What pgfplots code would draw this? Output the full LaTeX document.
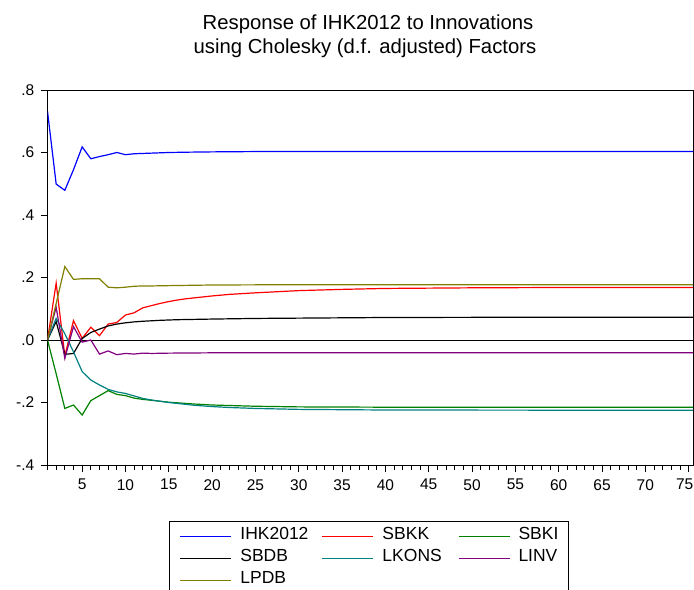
\documentclass[border=0pt]{standalone}
\usepackage{pgfplots}
\pgfplotsset{compat=1.18}
\usepackage{fontspec}
\setmainfont{Liberation Sans}
\definecolor{cIHK}{RGB}{0,0,255}
\definecolor{cSBKK}{RGB}{255,0,0}
\definecolor{cSBKI}{RGB}{0,128,0}
\definecolor{cSBDB}{RGB}{0,0,0}
\definecolor{cLKONS}{RGB}{0,128,128}
\definecolor{cLINV}{RGB}{128,0,128}
\definecolor{cLPDB}{RGB}{128,128,0}
\begin{document}
\begin{tikzpicture}
\path[use as bounding box] (0,0) rectangle (694bp,-590bp);
\node[anchor=base, font=\fontsize{20.3bp}{24bp}\selectfont] at (368bp,-29.7bp) {Response of IHK2012 to Innovations};
\node[anchor=base, font=\fontsize{20.3bp}{24bp}\selectfont] at (365bp,-53bp) {using Cholesky (d.f. adjusted) Factors};
\begin{axis}[
  at={(47.5bp,-465bp)}, anchor=south west,
  scale only axis, width=645.5bp, height=375bp,
  xmin=1, xmax=75.5, ymin=-0.4, ymax=0.8,
  axis line style={line width=0.8bp},
  tick pos=left, tick align=outside,
  xtick={5,10,...,75},
  xticklabels={5,10,15,20,25,30,35,40,45,50,55,60,65,70,{75\hspace*{8bp}}},
  minor xtick={1,...,75},
  ytick={-0.4,-0.2,0,0.2,0.4,0.6,0.8},
  yticklabels={-.4,-.2,.0,.2,.4,.6,.8},
  major tick length=7bp, minor tick length=5bp,
  tick style={black, line width=0.7bp},
  ticklabel style={font=\fontsize{15.5bp}{18bp}\selectfont},
  yticklabel style={inner sep=0pt, anchor=east, xshift=-6bp},
  xticklabel style={inner sep=0pt, anchor=north, yshift=-7bp},
  every axis plot/.append style={line width=1.2bp},
  legend columns=3,
  legend cell align=left,
  legend image code/.code={\draw[#1, line width=1.5bp] (0bp,-1bp) -- (51bp,-1bp);},
  legend style={at={(0.1882,-0.1485)}, anchor=north west,
    draw=black, line width=0.8bp, fill=white, inner xsep=10.25bp, inner ysep=3.4bp,
    font=\fontsize{17.5bp}{21bp}\selectfont,
    nodes={inner xsep=0pt, inner ysep=3bp, text height=12.5bp, text depth=3.5bp},
    /tikz/every odd column/.append style={column sep=8.25bp},
    /tikz/column 2/.style={column sep=13.25bp},
    /tikz/column 4/.style={column sep=15.95bp}},
]
\addplot[forget plot, black, line width=0.8bp] coordinates {(1,0)(76,0)};
\addplot[draw=cIHK] coordinates {(1,0.732)(2,0.499)(3,0.479)(4,0.545)(5,0.618)(6,0.580)(7,0.587)(8,0.593)(9,0.600)(10,0.593)(11,0.596)(12,0.597)(13,0.598)(14,0.599)(15,0.600)(17,0.601)(20,0.602)(25,0.603)(30,0.603)(76,0.603)};
\addlegendentry{IHK2012}
\addplot[draw=cSBKK] coordinates {(1,0)(2,0.182)(3,-0.051)(4,0.062)(5,0.005)(6,0.041)(7,0.014)(8,0.051)(9,0.056)(10,0.080)(11,0.087)(12,0.103)(13,0.110)(14,0.117)(15,0.123)(16,0.128)(17,0.132)(18,0.135)(20,0.141)(22,0.146)(25,0.151)(30,0.158)(35,0.162)(40,0.165)(45,0.166)(50,0.167)(60,0.168)(76,0.168)};
\addlegendentry{SBKK}
\addplot[draw=cSBKI] coordinates {(1,0)(2,-0.108)(3,-0.219)(4,-0.208)(5,-0.240)(6,-0.194)(7,-0.178)(8,-0.162)(9,-0.174)(10,-0.178)(11,-0.186)(12,-0.190)(13,-0.193)(14,-0.196)(15,-0.199)(16,-0.201)(17,-0.203)(18,-0.205)(20,-0.208)(25,-0.212)(30,-0.214)(40,-0.215)(76,-0.215)};
\addlegendentry{SBKI}
\addplot[draw=cSBDB] coordinates {(1,0)(2,0.059)(3,-0.046)(4,-0.043)(5,0.005)(6,0.024)(7,0.035)(8,0.045)(9,0.051)(10,0.055)(11,0.058)(12,0.060)(14,0.063)(16,0.065)(20,0.067)(25,0.069)(30,0.070)(40,0.072)(50,0.0725)(76,0.073)};
\addlegendentry{SBDB}
\addplot[draw=cLKONS] coordinates {(1,0)(2,0.069)(3,0.020)(4,-0.038)(5,-0.101)(6,-0.128)(7,-0.144)(8,-0.158)(9,-0.166)(10,-0.171)(11,-0.179)(12,-0.187)(13,-0.192)(14,-0.196)(15,-0.200)(16,-0.203)(17,-0.206)(18,-0.209)(20,-0.213)(22,-0.216)(25,-0.219)(30,-0.222)(35,-0.223)(40,-0.224)(76,-0.225)};
\addlegendentry{LKONS}
\addplot[draw=cLINV] coordinates {(1,0)(2,0.105)(3,-0.059)(4,0.043)(5,-0.007)(6,0.000)(7,-0.045)(8,-0.035)(9,-0.047)(10,-0.043)(11,-0.045)(12,-0.042)(13,-0.043)(15,-0.042)(20,-0.041)(76,-0.041)};
\addlegendentry{LINV}
\addplot[draw=cLPDB] coordinates {(1,0)(2,0.117)(3,0.235)(4,0.194)(5,0.196)(6,0.196)(7,0.196)(8,0.169)(9,0.167)(10,0.169)(11,0.172)(12,0.173)(13,0.173)(15,0.174)(20,0.176)(30,0.177)(76,0.177)};
\addlegendentry{LPDB}
\end{axis}
\end{tikzpicture}
\end{document}
